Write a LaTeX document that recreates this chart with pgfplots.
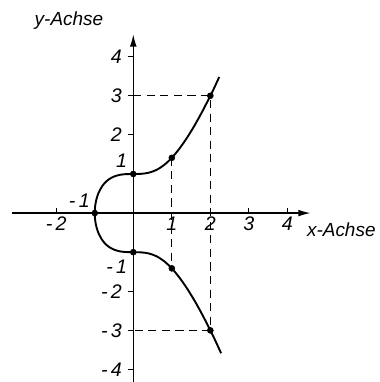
\documentclass[border=0pt]{standalone}
\usepackage{pgfplots}
\pgfplotsset{compat=1.18}
\usepackage{fontspec}
\setmainfont{Liberation Sans}
\usetikzlibrary{arrows.meta}

\begin{document}
\begin{tikzpicture}
\begin{axis}[
    x=1cm, y=1.015cm,
    axis lines=middle,
    xmin=-3.15, xmax=4.6,
    ymin=-4.35, ymax=4.57,
    clip=false,
    axis line style={line width=0.9pt, -{Latex[length=9pt,width=5pt]}},
    xtick={-2,3,4},
    xticklabels={-\,2,3,4},
    ytick={-4,-3,-2,2,3,4},
    yticklabels={-\,4,-\,3,-\,2,2,3,4},
    extra x ticks={1,2},
    extra x tick labels={1,2},
    extra y ticks={-1.38,1.35},
    extra y tick labels={-\,1,1},
    extra tick style={major tick length=0pt},
    xtick align=inside,
    ytick align=outside,
    major tick length=4pt,
    every tick/.style={line width=0.8pt, black},
    tick label style={font=\itshape\fontsize{14.5}{16}\selectfont},
    xticklabel style={yshift=1pt},
    yticklabel style={xshift=-1pt},
    /pgf/number format/assume math mode=true,
]

% y^2 = x^3 + 1
\addplot[line width=1.4pt, smooth, tension=0.5] coordinates {
    (2.28,-3.585) (2.1,-3.2) (2,-3) (1.8,-2.614) (1.6,-2.257) (1.4,-1.935)
    (1.2,-1.652) (1,-1.414) (0.8,-1.23) (0.6,-1.103) (0.4,-1.032) (0.2,-1.004)
    (0,-1) (-0.2,-0.996) (-0.35,-0.978) (-0.5,-0.935) (-0.6,-0.885)
    (-0.7,-0.811) (-0.8,-0.699) (-0.9,-0.521) (-0.95,-0.378) (-0.98,-0.243)
    (-0.995,-0.122) (-1,0) (-0.995,0.122) (-0.98,0.243) (-0.95,0.378)
    (-0.9,0.521) (-0.8,0.699) (-0.7,0.811) (-0.6,0.885) (-0.5,0.935)
    (-0.35,0.978) (-0.2,0.996) (0,1) (0.2,1.004) (0.4,1.032) (0.6,1.103)
    (0.8,1.23) (1,1.414) (1.2,1.652) (1.4,1.935) (1.6,2.257) (1.8,2.614)
    (2,3) (2.1,3.2) (2.23,3.48)
};

% helper lines
\addplot[dashed, line width=0.9pt, dash pattern=on 6pt off 4pt] coordinates {(1,1.414) (1,-1.414)};
\addplot[dashed, line width=0.9pt, dash pattern=on 6pt off 4pt] coordinates {(0,3) (2,3) (2,-3) (0,-3)};

% marked points
\addplot[only marks, mark=*, mark size=2.2pt] coordinates {
    (-1,0) (0,1) (0,-1) (1,1.414) (1,-1.414) (2,3) (2,-3)
};

\node[font=\itshape\fontsize{14.5}{16}\selectfont] at (axis cs:-1.4,0.32) {-\,1};
\node[font=\itshape\fontsize{14}{16}\selectfont] at (axis cs:-1.67,4.92) {y-Achse};
\node[font=\itshape\fontsize{14}{16}\selectfont] at (axis cs:5.4,-0.42) {x-Achse};

\coordinate (bl) at (axis cs:-3.46,-4.32);
\coordinate (tr) at (axis cs:6.38,5.45);
\end{axis}
\pgfresetboundingbox
\path[use as bounding box] (bl) rectangle (tr);
\end{tikzpicture}
\end{document}
